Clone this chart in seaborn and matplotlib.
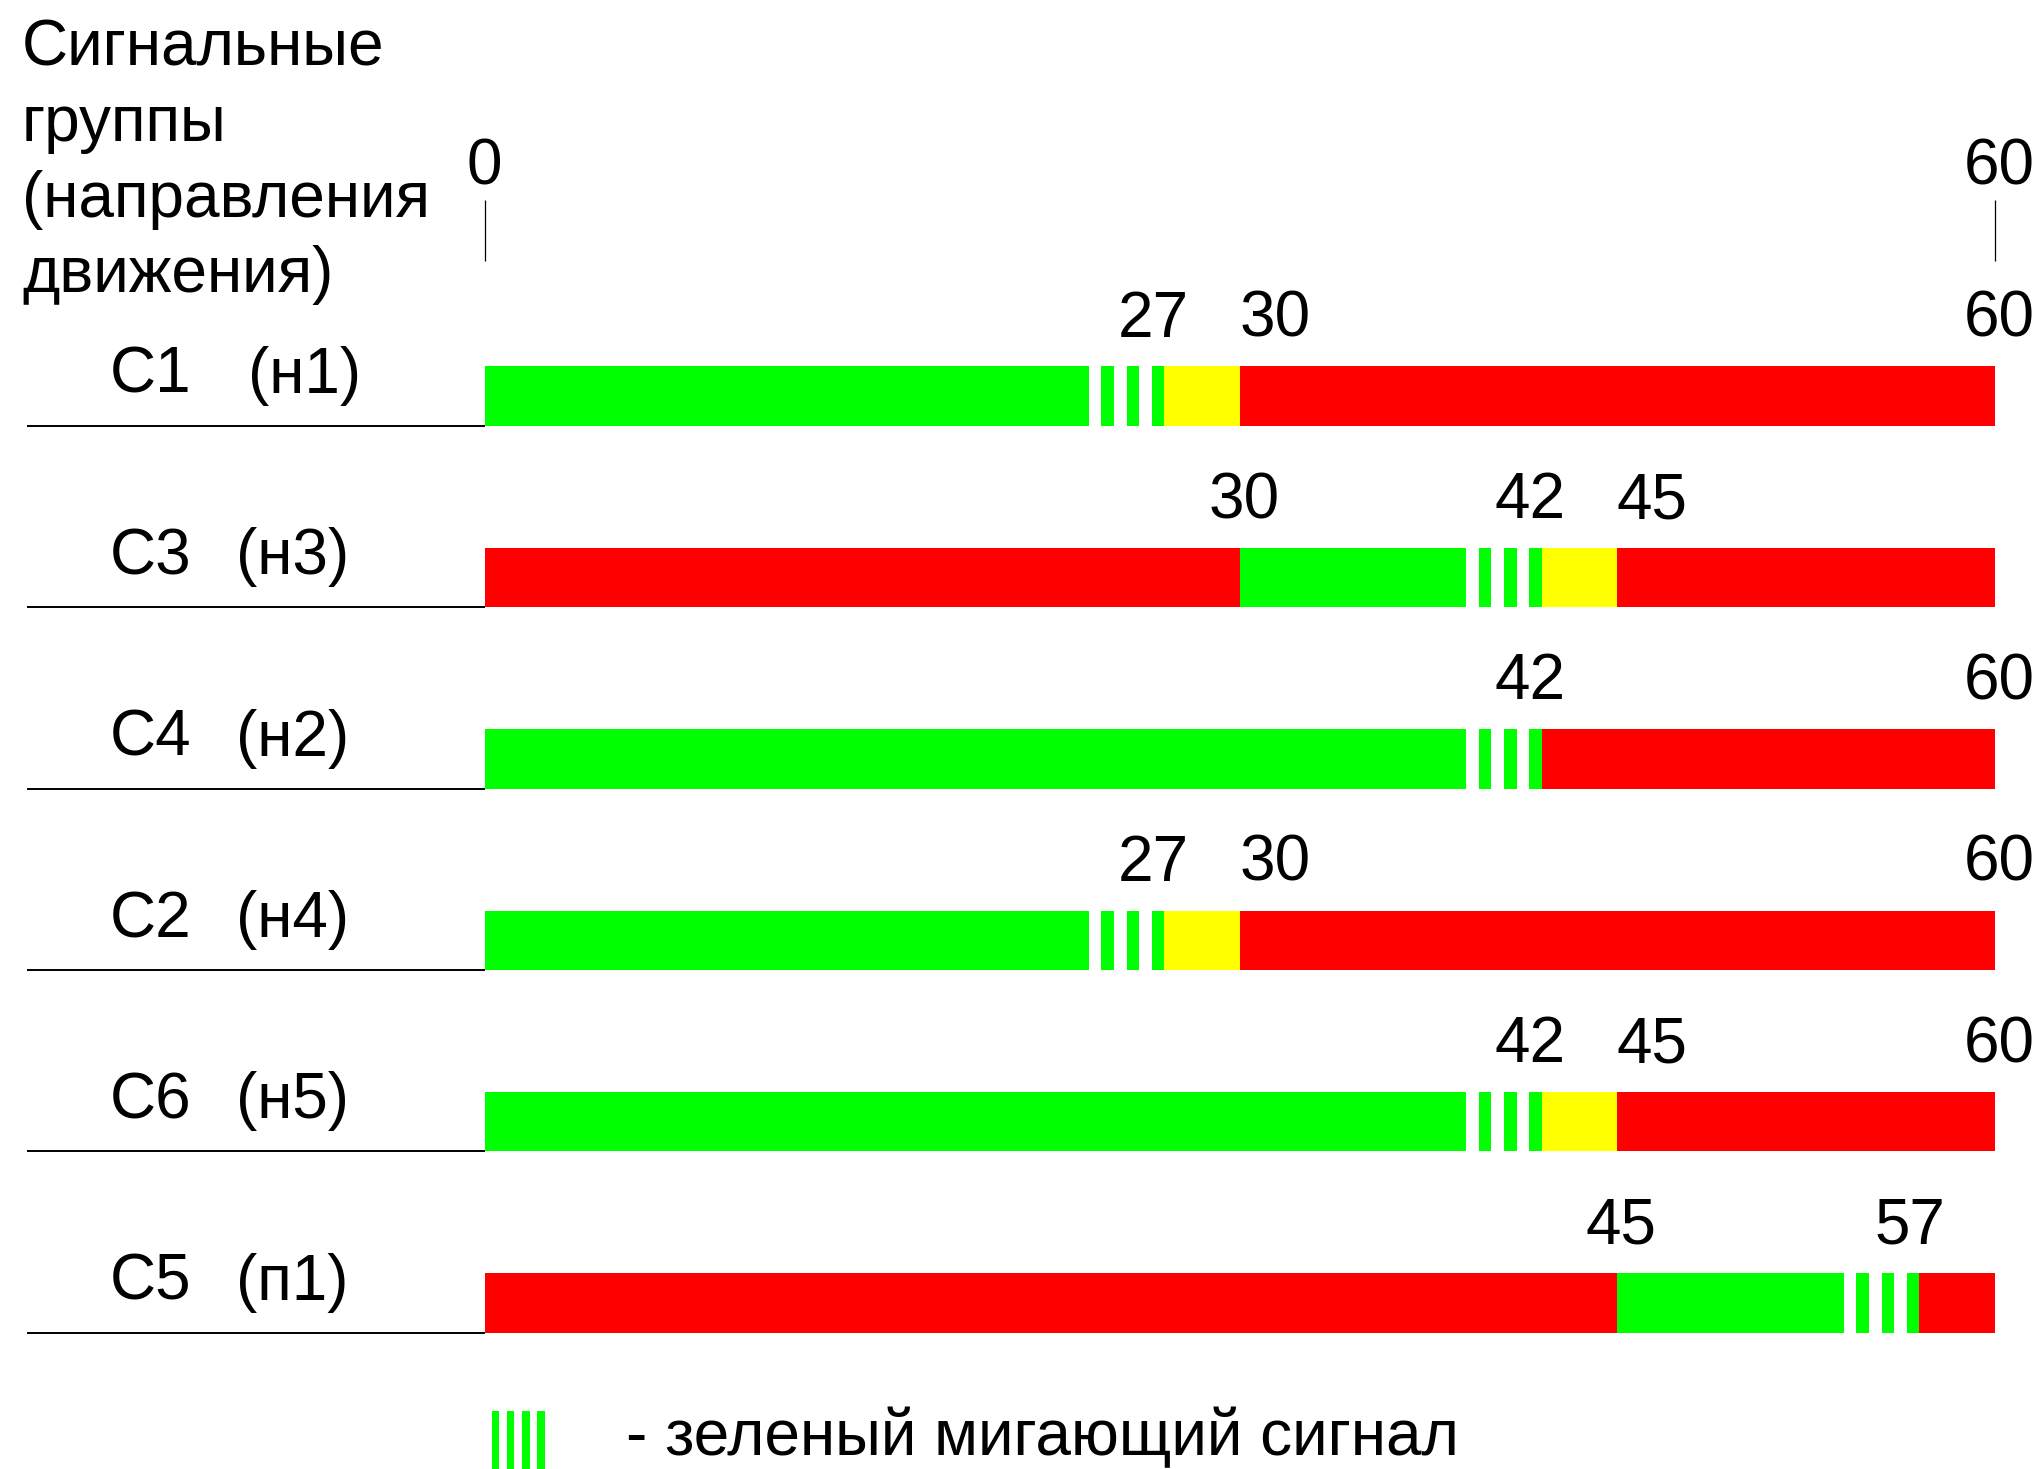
import matplotlib
matplotlib.use("Agg")
import matplotlib.pyplot as plt
import seaborn as sns

# ---- data -------------------------------------------------------------
groups = ["С1", "С3", "С4", "С2", "С6", "С5"]
directions = ["(н1)", "(н3)", "(н2)", "(н4)", "(н5)", "(п1)"]
cycle_start = 0
cycle_end = 60

# signal phases of each group within the cycle: (start, end, signal)
c1_phases = [(0, 24, "green"), (24, 27, "flash"), (27, 30, "yellow"), (30, 60, "red")]
c3_phases = [(0, 30, "red"), (30, 39, "green"), (39, 42, "flash"), (42, 45, "yellow"), (45, 60, "red")]
c4_phases = [(0, 39, "green"), (39, 42, "flash"), (42, 60, "red")]
c2_phases = [(0, 24, "green"), (24, 27, "flash"), (27, 30, "yellow"), (30, 60, "red")]
c6_phases = [(0, 39, "green"), (39, 42, "flash"), (42, 45, "yellow"), (45, 60, "red")]
c5_phases = [(0, 45, "red"), (45, 54, "green"), (54, 57, "flash"), (57, 60, "red")]
phases = [c1_phases, c3_phases, c4_phases, c2_phases, c6_phases, c5_phases]

# switching moments written above each bar
c1_marks = [27, 30, 60]
c3_marks = [30, 42, 45]
c4_marks = [42, 60]
c2_marks = [27, 30, 60]
c6_marks = [42, 45, 60]
c5_marks = [45, 57]
marks = [c1_marks, c3_marks, c4_marks, c2_marks, c6_marks, c5_marks]

header = ["Сигнальные", "группы", "(направления", "движения)"]
legend_text = "- зеленый мигающий сигнал"

# ---- layout / style ---------------------------------------------------
signal_colors = {"green": "#00ff00", "flash": "#00ff00", "yellow": "#ffff00", "red": "#ff0000"}
mark_nudges = [[-0.43, 1.39, 0.17], [0.18, -0.48, 1.38], [-0.48, 0.17],
               [-0.43, 1.39, 0.17], [-0.48, 1.38, 0.17], [0.14, -0.37]]
direction_x = [-9.40, -9.87, -9.87, -9.87, -9.87, -9.87]
bar_h = 0.327
fs = 46
ink = "black"

sns.set_theme(style="white")
plt.rcParams["font.family"] = ["Liberation Sans", "DejaVu Sans"]
plt.rcParams["text.color"] = ink

fig = plt.figure(figsize=(20.43, 14.69), dpi=100)
ax = fig.add_axes([0, 0, 1, 1])
ax.set_xlim(-19.257, 61.911)
ax.set_ylim(5.9146, -2.1836)
ax.axis("off")

# header of the label column
header_y = [-1.820, -1.406, -0.987, -0.574]
for line, y in zip(header, header_y):
    ax.text(-18.38, y, line, fontsize=fs, ha="left", va="baseline", color=ink)

# cycle scale: 0 and 60 with short ticks
for v, nudge in [(cycle_start, 0.0), (cycle_end, 0.17)]:
    ax.text(v + nudge, -1.164, str(v), fontsize=fs, ha="center", va="baseline", color=ink)
    ax.plot([v, v], [-1.081, -0.7475], color=ink, lw=0.9, solid_capstyle="butt")

for row, (grp, dirn, ph, mk) in enumerate(zip(groups, directions, phases, marks)):
    # bars of the signal plan
    for start, end, sig in ph:
        color = signal_colors[sig]
        if sig == "flash":
            for k in range(int(end - start)):
                ax.barh(row, 0.5, left=start + k + 0.5, height=bar_h,
                        color=color, linewidth=0)
        else:
            ax.barh(row, end - start, left=start, height=bar_h,
                    color=color, linewidth=0)
    # switching moments
    for v, nudge in zip(mk, mark_nudges[row]):
        ax.text(v + nudge, row - 0.3275, str(v), fontsize=fs,
                ha="center", va="baseline", color=ink)
    # group name and direction, underlined
    ax.text(-14.89, row - 0.018, grp, fontsize=fs, ha="left", va="baseline", color=ink)
    ax.text(direction_x[row], row - 0.018, dirn, fontsize=fs, ha="left",
            va="baseline", color=ink)
    ax.plot([-18.18, 0], [row + bar_h / 2, row + bar_h / 2], color=ink,
            lw=1.4, solid_capstyle="butt")

# legend: flashing green symbol
for k in range(4):
    ax.barh(5.755, 0.3, left=0.28 + 0.6 * k, height=0.32,
            color=signal_colors["flash"], linewidth=0)
ax.text(5.62, 5.837, legend_text, fontsize=fs, ha="left", va="baseline", color=ink)

fig.savefig("out.png", dpi=100, facecolor="white")
